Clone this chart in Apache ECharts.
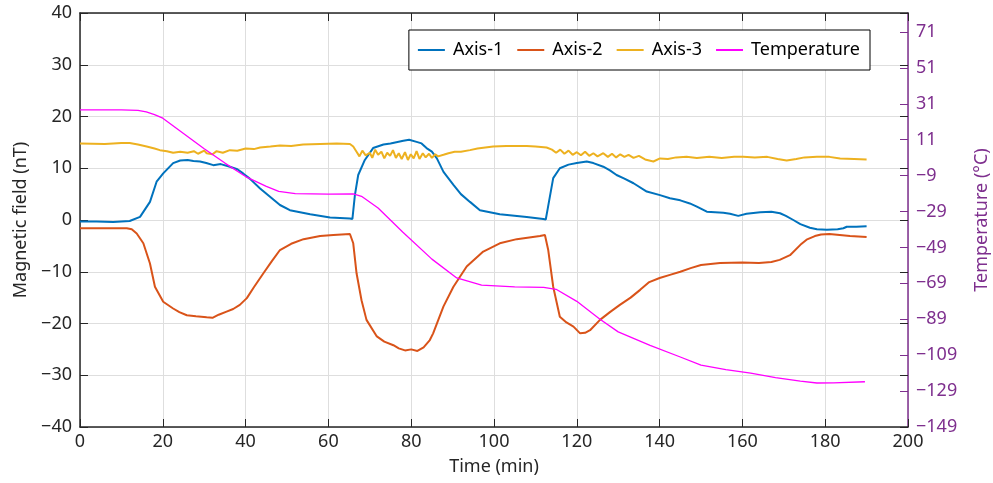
<!DOCTYPE html>
<html>
<head>
<meta charset="utf-8">
<title>Magnetic field vs temperature</title>
<script src="https://cdn.jsdelivr.net/npm/echarts@6/dist/echarts.min.js"></script>
<style>
	html, body { margin: 0; padding: 0; background: #fff; }
	#chart { width: 993px; height: 483px; }
</style>
</head>
<body>
<div id="chart"></div>
<script>
// Axis-1 (nT)
var axis1Time = [0, 4, 8, 12, 14.5, 16.9, 18.5, 20.1, 22.5, 24.2, 26, 27.4, 29, 30.5, 32.2, 34, 36.2, 38, 39.4, 41, 43.5, 45.9, 48.3, 50.7, 55.6, 60.4, 65.2, 65.8, 66.4, 67.2, 68.8, 70.8, 73.3, 75, 78.1, 79.5, 81.3, 82.5, 83.7, 85, 86.2, 87.8, 90.2, 92, 94.2, 96.6, 101.4, 107.9, 111.9, 112.5, 113, 114.3, 115.9, 118, 120, 122.4, 124, 126.4, 128, 129.6, 131.5, 133.7, 136.9, 140.1, 142.5, 145, 147.3, 149, 151.4, 155.4, 157, 159, 161, 164.3, 167, 169.1, 170.5, 172.3, 174, 176.3, 178, 180.4, 183, 184.4, 185.2, 187.5, 190];
var axis1Values = [-0.3, -0.3, -0.4, -0.2, 0.6, 3.5, 7.4, 9.0, 11.0, 11.5, 11.6, 11.4, 11.3, 11.0, 10.6, 10.8, 10.3, 9.8, 9.0, 8.0, 6.1, 4.5, 2.9, 1.9, 1.1, 0.5, 0.3, 0.2, 4.8, 8.7, 11.6, 13.9, 14.6, 14.8, 15.3, 15.5, 15.1, 14.8, 13.9, 13.2, 11.9, 9.3, 6.8, 5.0, 3.5, 1.9, 1.1, 0.6, 0.2, 0.1, 2.3, 8.1, 10.0, 10.7, 11.0, 11.3, 11.0, 10.3, 9.6, 8.7, 8.0, 7.1, 5.5, 4.8, 4.2, 3.8, 3.2, 2.6, 1.6, 1.4, 1.2, 0.8, 1.2, 1.5, 1.6, 1.3, 0.8, 0, -0.8, -1.5, -1.8, -1.9, -1.8, -1.6, -1.3, -1.3, -1.2];

// Axis-2 (nT)
var axis2Time = [0, 11.3, 12.5, 13.7, 15.3, 16.9, 18.1, 20.1, 22.5, 24, 25.8, 28, 30.6, 32, 33.5, 35.4, 37, 38.6, 40.3, 42, 44.3, 46.3, 48.3, 51, 54, 58, 61.2, 65.2, 66, 66.8, 68, 69.2, 71.7, 73.5, 75.7, 77, 78.5, 80, 81.5, 83, 84.5, 85.3, 87.8, 90.2, 93.4, 97.4, 101.4, 105.5, 111.1, 112.3, 113.1, 114.3, 115.9, 117.5, 119.2, 120.8, 122, 123.2, 125.6, 128, 130.4, 133, 135.3, 137.5, 140, 142.5, 145, 147.5, 150, 154.6, 160, 164, 167, 169, 171.5, 174, 175.5, 177.5, 179, 181, 183.5, 186, 188, 190];
var axis2Values = [-1.6, -1.6, -1.8, -2.6, -4.5, -8.4, -12.9, -15.8, -17.1, -17.8, -18.4, -18.6, -18.8, -18.9, -18.3, -17.7, -17.2, -16.4, -15.1, -13.0, -10.3, -8.0, -5.8, -4.6, -3.7, -3.1, -2.9, -2.7, -4.5, -10.3, -15.5, -19.3, -22.5, -23.5, -24.2, -24.8, -25.2, -25.0, -25.3, -24.6, -23.2, -21.9, -16.7, -12.9, -9.0, -6.1, -4.5, -3.7, -3.1, -2.9, -5.8, -12.9, -18.7, -19.8, -20.6, -21.9, -21.8, -21.3, -19.3, -17.8, -16.4, -15.0, -13.5, -12.0, -11.2, -10.6, -10.0, -9.3, -8.7, -8.3, -8.2, -8.3, -8.1, -7.7, -6.8, -4.8, -3.8, -3.1, -2.8, -2.7, -2.9, -3.1, -3.2, -3.3];

// Axis-3 (nT)
var axis3Time = [0, 6, 10, 12, 14, 16.1, 18, 19.3, 21, 22.5, 24.2, 26, 27.5, 28.5, 30, 30.6, 32, 33, 34.5, 36.2, 38, 40, 42, 43.5, 46, 48.3, 51, 53.9, 58, 62, 65.2, 66, 66.8, 67.5, 68.2, 69, 70, 70.6, 71.3, 72, 72.8, 73.5, 74.2, 74.9, 75.6, 76.3, 77, 77.7, 78.5, 79.2, 79.9, 80.6, 81.3, 82, 82.8, 83.5, 84.3, 85, 85.8, 86.5, 87.8, 89, 90.5, 92, 94.2, 96, 99.8, 103, 107.9, 110, 112.7, 114, 115, 116, 117, 118, 119, 120, 121, 122, 123, 124, 125, 126.4, 127.5, 128.5, 129.5, 130.5, 131.5, 132.5, 133.7, 135, 136.5, 138.5, 140.1, 142, 144, 146.5, 149, 152, 155, 158, 160.2, 163, 166, 168.5, 170.7, 173, 175, 178, 181, 183.6, 187, 190];
var axis3Values = [14.8, 14.7, 14.9, 14.9, 14.6, 14.2, 13.8, 13.5, 13.3, 13.0, 13.2, 13.0, 13.3, 12.8, 13.4, 12.9, 12.7, 13.3, 13.0, 13.5, 13.4, 13.8, 13.7, 14.0, 14.2, 14.4, 14.3, 14.6, 14.7, 14.8, 14.7, 14.2, 13.2, 12.3, 13.4, 12.5, 13.0, 12.0, 13.6, 12.6, 13.2, 11.9, 13.0, 12.4, 13.5, 12.0, 12.9, 11.8, 13.1, 11.6, 12.7, 11.9, 13.3, 11.8, 12.9, 12.1, 12.8, 12.0, 12.7, 12.3, 12.6, 12.9, 13.2, 13.2, 13.5, 13.8, 14.2, 14.3, 14.3, 14.2, 14.0, 13.6, 13.0, 13.6, 12.8, 13.4, 12.6, 13.1, 12.5, 13.2, 12.4, 12.9, 12.3, 12.9, 12.2, 12.8, 12.1, 12.7, 12.2, 12.6, 12.0, 12.4, 11.7, 11.3, 11.9, 11.8, 12.1, 12.2, 12.0, 12.2, 12.0, 12.2, 12.2, 12.1, 12.2, 11.8, 11.5, 11.8, 12.1, 12.2, 12.2, 11.9, 11.8, 11.7];

// Temperature (°C), right axis
var tempTime = [0, 10, 14, 16, 18, 20, 25, 30, 35, 40, 45, 48, 52, 60, 66, 68, 72, 78, 85, 91, 97, 105, 112, 115, 120, 125.6, 130, 137.7, 145, 150, 156, 162, 168, 174, 178, 182, 189.6];
var tempValues = [27.6, 27.6, 27.4, 26.5, 25, 23, 14.5, 6, -2, -9.5, -15, -17.8, -19, -19.3, -19.2, -20.5, -27, -40.5, -55.5, -66, -70, -71, -71.2, -72.3, -79, -89, -96, -103.5, -110, -114.5, -117, -119, -121.5, -123.5, -124.5, -124.4, -123.8];

var tempTicks = [-149, -129, -109, -89, -69, -49, -29, -9, 11, 31, 51, 71];

var seriesNames = ['Axis-1', 'Axis-2', 'Axis-3', 'Temperature'];
var seriesColors = ['#0072BD', '#D95319', '#EDB120', '#FF00FF'];

var FONT = '"Noto Sans", "DejaVu Sans", sans-serif';
var PURPLE = '#7E2F8E';
var INK = '#262626';

function pairs(xs, ys) {
	var out = [];
	for (var i = 0; i < xs.length; i++) out.push([xs[i], ys[i]]);
	return out;
}
function minus(v) {
	return String(v).replace('-', '\u2212');
}

var chart = echarts.init(document.getElementById('chart'), null, { renderer: 'canvas' });

var option = {
	animation: false,
	backgroundColor: '#fff',
	textStyle: { fontFamily: FONT },
	grid: { left: 80, right: 85, top: 13, bottom: 56, outerBoundsMode: 'none', containLabel: false },
	legend: {
		data: seriesNames,
		icon: 'rect',
		right: 123,
		top: 30,
		padding: [11, 10, 11, 9],
		itemGap: 14,
		itemWidth: 27,
		itemHeight: 2,
		borderColor: '#000',
		borderWidth: 1,
		backgroundColor: '#fff',
		textStyle: { fontFamily: FONT, fontSize: 18, color: '#000', padding: [0, 0, 0, 3] }
	},
	xAxis: [{
		type: 'value',
		min: 0, max: 200, interval: 20,
		name: 'Time (min)',
		nameLocation: 'middle',
		nameGap: 31,
		nameTextStyle: { fontFamily: FONT, fontSize: 18, color: INK },
		axisLine: { onZero: false, lineStyle: { color: INK, width: 1.5 } },
		axisTick: { inside: true, length: 8, lineStyle: { color: INK } },
		axisLabel: { fontFamily: FONT, fontSize: 18, color: INK, margin: 6 },
		splitLine: { show: true, lineStyle: { color: '#dedede', width: 1 } }
	}, {
		type: 'value',
		position: 'top',
		min: 0, max: 200, interval: 20,
		axisLine: { onZero: false, lineStyle: { color: INK, width: 1.5 } },
		axisTick: { inside: true, length: 8, lineStyle: { color: INK } },
		axisLabel: { show: false },
		splitLine: { show: false }
	}],
	yAxis: [{
		type: 'value',
		min: -40, max: 40, interval: 10,
		name: 'Magnetic field (nT)',
		nameLocation: 'middle',
		nameGap: 50,
		nameTextStyle: { fontFamily: FONT, fontSize: 18, color: INK },
		axisLine: { onZero: false, lineStyle: { color: INK, width: 1.5 } },
		axisTick: { inside: true, length: 8, lineStyle: { color: INK } },
		axisLabel: { fontFamily: FONT, fontSize: 18, color: INK, margin: 8, formatter: minus },
		splitLine: { show: true, lineStyle: { color: '#dedede', width: 1 } }
	}, {
		type: 'value',
		position: 'right',
		min: -149, max: 81.6,
		name: 'Temperature (\u00B0C)',
		nameLocation: 'middle',
		nameGap: 65,
		nameRotate: 90,
		nameTextStyle: { fontFamily: FONT, fontSize: 18, color: PURPLE },
		axisLine: { show: true, onZero: false, lineStyle: { color: PURPLE, width: 1.5 } },
		axisTick: { show: true, inside: true, length: 8, customValues: tempTicks, lineStyle: { color: PURPLE } },
		axisLabel: { fontFamily: FONT, fontSize: 18, color: PURPLE, margin: 8, customValues: tempTicks, formatter: minus },
		splitLine: { show: false }
	}, {
		// left-axis ticks mirrored on the right edge
		type: 'value',
		position: 'right',
		min: -40, max: 40, interval: 10,
		axisLine: { show: false, onZero: false },
		axisTick: { show: true, inside: true, length: 8, lineStyle: { color: INK } },
		axisLabel: { show: false },
		splitLine: { show: false }
	}],
	series: [{
		name: 'Axis-1', type: 'line', xAxisIndex: 0, yAxisIndex: 0,
		data: pairs(axis1Time, axis1Values),
		symbol: 'none', color: seriesColors[0], lineStyle: { width: 2 }
	}, {
		name: 'Axis-2', type: 'line', xAxisIndex: 0, yAxisIndex: 0,
		data: pairs(axis2Time, axis2Values),
		symbol: 'none', color: seriesColors[1], lineStyle: { width: 2 }
	}, {
		name: 'Axis-3', type: 'line', xAxisIndex: 0, yAxisIndex: 0,
		data: pairs(axis3Time, axis3Values),
		symbol: 'none', color: seriesColors[2], lineStyle: { width: 2 }
	}, {
		name: 'Temperature', type: 'line', xAxisIndex: 0, yAxisIndex: 1,
		data: pairs(tempTime, tempValues),
		symbol: 'none', color: seriesColors[3], lineStyle: { width: 1.3 }
	}]
};

chart.setOption(option);
</script>
</body>
</html>
